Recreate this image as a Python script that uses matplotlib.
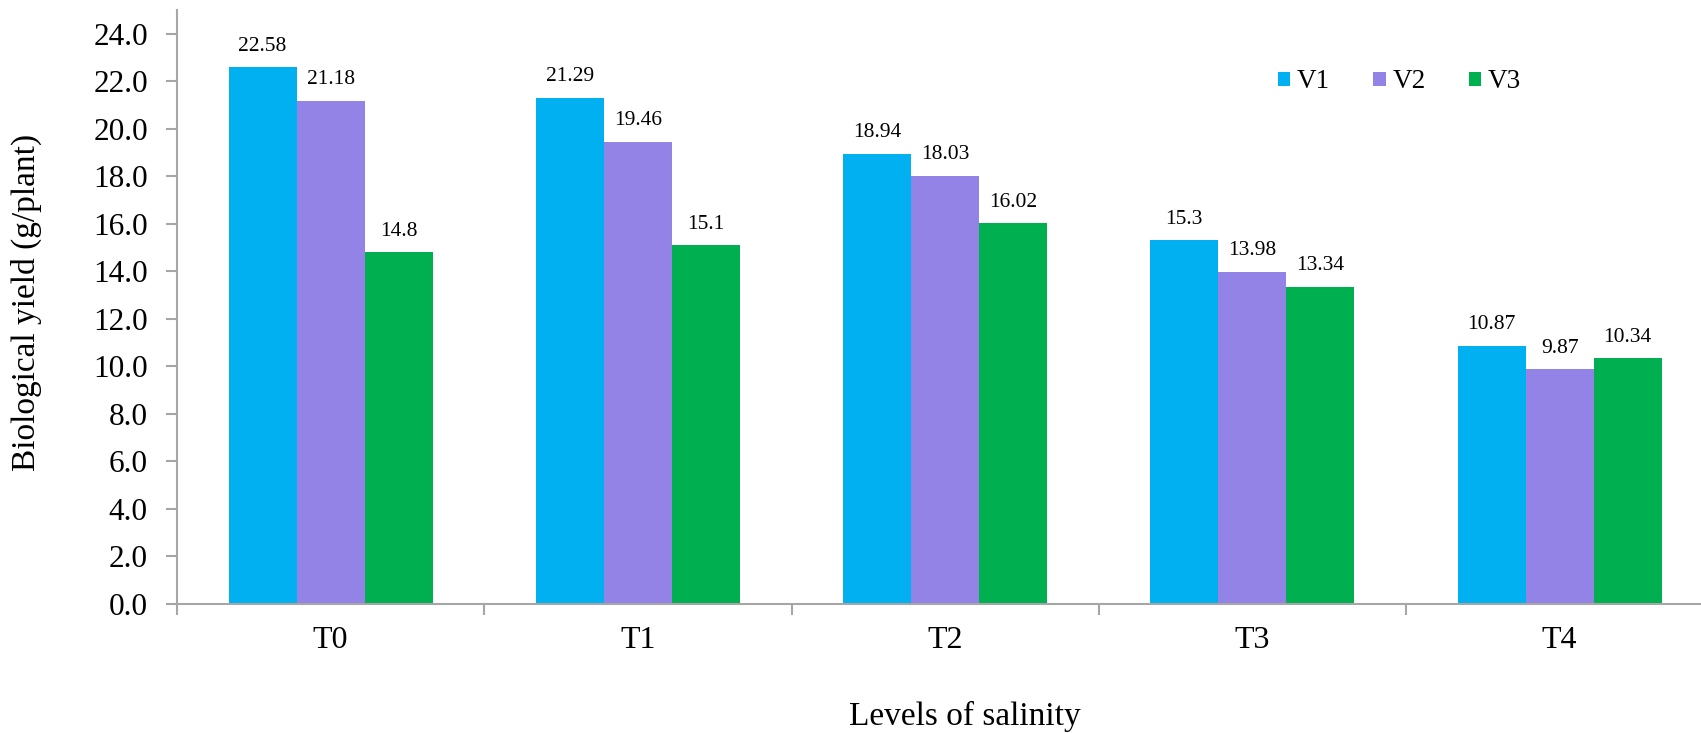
import matplotlib
matplotlib.use("Agg")
import matplotlib.pyplot as plt
import numpy as np

# salinity levels and the three varieties
levels = ["T0", "T1", "T2", "T3", "T4"]
v1 = [22.58, 21.29, 18.94, 15.3, 10.87]
v2 = [21.18, 19.46, 18.03, 13.98, 9.87]
v3 = [14.8, 15.1, 16.02, 13.34, 10.34]
series_names = ["V1", "V2", "V3"]
colors = ["#00B0F0", "#9483E6", "#00B050"]

plt.rcParams['font.family'] = ['Liberation Serif', 'DejaVu Serif']

W, H = 1701, 733
fig = plt.figure(figsize=(W / 100, H / 100), dpi=100)
# plot area in pixels: y axis at x=177, zero line at y=604, top at y=10
cat_w = 307.25
ax = fig.add_axes([177 / W, (H - 604) / H, 5 * cat_w / W, (604 - 10) / H])

x = np.arange(len(levels))
bw = 0.2215
for i, (vals, name, c) in enumerate(zip([v1, v2, v3], series_names, colors)):
    pos = x + (i - 1) * bw
    ax.bar(pos, vals, width=bw, color=c, label=name, linewidth=0)
    for px, v in zip(pos, vals):
        ax.annotate(f"{v:g}", (px, v), xytext=(0, 12), textcoords="offset points",
                    ha="center", va="baseline", fontsize=15.5)

ax.set_xlim(-0.5, 4.5)
ax.set_ylim(0, 25)
ax.set_yticks(np.arange(0, 25, 2))
ax.set_yticklabels([f"{t:.1f}" for t in np.arange(0, 25, 2)])
ax.set_xticks(x)
ax.set_xticklabels(levels)
ax.set_xticks(np.arange(-0.5, 5, 1), minor=True)

gray = "#a6a6a6"
for s in ["top", "right"]:
    ax.spines[s].set_visible(False)
for s in ["left", "bottom"]:
    ax.spines[s].set_color(gray)
    ax.spines[s].set_linewidth(1.5)
ax.tick_params(axis="y", length=8, width=1.5, color=gray, labelsize=22.5, pad=13)
ax.tick_params(axis="x", which="major", length=0, labelsize=23, pad=16)
ax.tick_params(axis="x", which="minor", length=8, width=1.5, color=gray)

fig.text(26 / W, 1 - 302 / H, "Biological yield (g/plant)", rotation=90,
         ha="center", va="center", fontsize=24)
fig.text(965 / W, 1 - 716 / H, "Levels of salinity", ha="center", va="center", fontsize=24)

ax.legend(loc="center left", bbox_to_anchor=(1278 / W, 1 - 82 / H),
          bbox_transform=fig.transFigure, ncol=3, frameon=False, fontsize=19.5,
          handlelength=0.45, handleheight=0.45, handletextpad=0.25,
          columnspacing=1.6, borderpad=0, borderaxespad=0)

fig.savefig("out.png", dpi=100)
